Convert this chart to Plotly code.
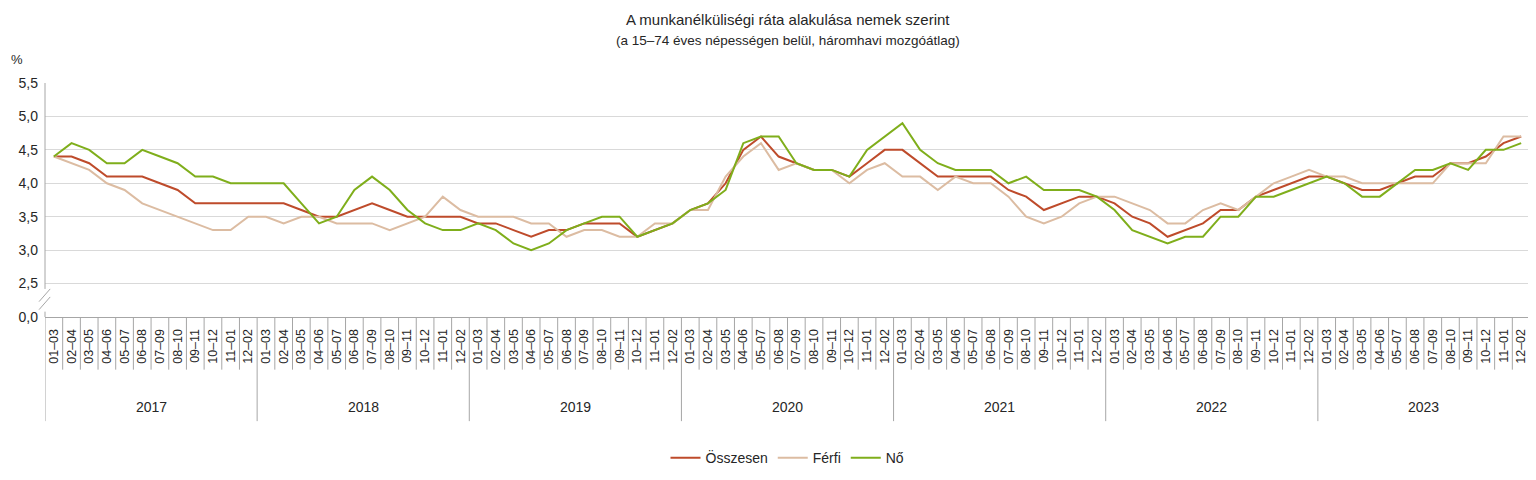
import plotly.graph_objects as go

# Periods (three-month moving windows) and years
years = ['2017', '2018', '2019', '2020', '2021', '2022', '2023']
periods = ['01–03', '02–04', '03–05', '04–06', '05–07', '06–08',
           '07–09', '08–10', '09–11', '10–12', '11–01', '12–02']

# Unemployment rate, %
osszesen = [
    4.4, 4.4, 4.3, 4.1, 4.1, 4.1, 4.0, 3.9, 3.7, 3.7, 3.7, 3.7,   # 2017
    3.7, 3.7, 3.6, 3.5, 3.5, 3.6, 3.7, 3.6, 3.5, 3.5, 3.5, 3.5,   # 2018
    3.4, 3.4, 3.3, 3.2, 3.3, 3.3, 3.4, 3.4, 3.4, 3.2, 3.3, 3.4,   # 2019
    3.6, 3.7, 4.0, 4.5, 4.7, 4.4, 4.3, 4.2, 4.2, 4.1, 4.3, 4.5,   # 2020
    4.5, 4.3, 4.1, 4.1, 4.1, 4.1, 3.9, 3.8, 3.6, 3.7, 3.8, 3.8,   # 2021
    3.7, 3.5, 3.4, 3.2, 3.3, 3.4, 3.6, 3.6, 3.8, 3.9, 4.0, 4.1,   # 2022
    4.1, 4.0, 3.9, 3.9, 4.0, 4.1, 4.1, 4.3, 4.3, 4.4, 4.6, 4.7,   # 2023
]
ferfi = [
    4.4, 4.3, 4.2, 4.0, 3.9, 3.7, 3.6, 3.5, 3.4, 3.3, 3.3, 3.5,
    3.5, 3.4, 3.5, 3.5, 3.4, 3.4, 3.4, 3.3, 3.4, 3.5, 3.8, 3.6,
    3.5, 3.5, 3.5, 3.4, 3.4, 3.2, 3.3, 3.3, 3.2, 3.2, 3.4, 3.4,
    3.6, 3.6, 4.1, 4.4, 4.6, 4.2, 4.3, 4.2, 4.2, 4.0, 4.2, 4.3,
    4.1, 4.1, 3.9, 4.1, 4.0, 4.0, 3.8, 3.5, 3.4, 3.5, 3.7, 3.8,
    3.8, 3.7, 3.6, 3.4, 3.4, 3.6, 3.7, 3.6, 3.8, 4.0, 4.1, 4.2,
    4.1, 4.1, 4.0, 4.0, 4.0, 4.0, 4.0, 4.3, 4.3, 4.3, 4.7, 4.7,
]
no = [
    4.4, 4.6, 4.5, 4.3, 4.3, 4.5, 4.4, 4.3, 4.1, 4.1, 4.0, 4.0,
    4.0, 4.0, 3.7, 3.4, 3.5, 3.9, 4.1, 3.9, 3.6, 3.4, 3.3, 3.3,
    3.4, 3.3, 3.1, 3.0, 3.1, 3.3, 3.4, 3.5, 3.5, 3.2, 3.3, 3.4,
    3.6, 3.7, 3.9, 4.6, 4.7, 4.7, 4.3, 4.2, 4.2, 4.1, 4.5, 4.7,
    4.9, 4.5, 4.3, 4.2, 4.2, 4.2, 4.0, 4.1, 3.9, 3.9, 3.9, 3.8,
    3.6, 3.3, 3.2, 3.1, 3.2, 3.2, 3.5, 3.5, 3.8, 3.8, 3.9, 4.0,
    4.1, 4.0, 3.8, 3.8, 4.0, 4.2, 4.2, 4.3, 4.2, 4.5, 4.5, 4.6,
]

# y tick labels (axis is broken: 0,0 sits one step below 2,5)
ytick_vals = [2.0, 2.5, 3.0, 3.5, 4.0, 4.5, 5.0, 5.5]
ytick_text = ['0,0', '2,5', '3,0', '3,5', '4,0', '4,5', '5,0', '5,5']

n = len(years) * len(periods)
x = list(range(n))
labels = periods * len(years)

font = 'Liberation Sans, Arial, sans-serif'
grey = '#a6a6a6'

fig = go.Figure()
series = [('Összesen', osszesen, '#be4b2b'),
          ('Férfi', ferfi, '#dcbca2'),
          ('Nő', no, '#7fae1b')]
for name, vals, col in series:
    fig.add_scatter(x=x, y=vals, mode='lines', name=name,
                    line=dict(color=col, width=2))

shapes = []
# category separators and year separators under the axis
for k in range(n + 1):
    long = k % 12 == 0
    shapes.append(dict(type='line', xref='x', yref='paper',
                       x0=k - 0.5, x1=k - 0.5, y0=0,
                       y1=-0.445 if long else -0.225,
                       line=dict(color=grey, width=1)))
# y axis line with a break
shapes.append(dict(type='line', xref='paper', yref='y', x0=0, x1=0,
                   y0=2.42, y1=5.5, line=dict(color=grey, width=1)))
shapes.append(dict(type='line', xref='paper', yref='y', x0=0, x1=0,
                   y0=2.0, y1=2.08, line=dict(color=grey, width=1)))
for y0, y1 in [(2.23, 2.42), (2.11, 2.30)]:
    shapes.append(dict(type='line', xref='paper', yref='y',
                       x0=-0.004, x1=0.0035, y0=y0, y1=y1,
                       line=dict(color=grey, width=1)))

annotations = [
    dict(text='A munkanélküliségi ráta alakulása nemek szerint',
         xref='paper', yref='paper', x=0.5, y=1.271, xanchor='center',
         yanchor='middle', showarrow=False, font=dict(size=15)),
    dict(text='(a 15–74 éves népességen belül, háromhavi mozgóátlag)',
         xref='paper', yref='paper', x=0.5, y=1.182, xanchor='center',
         yanchor='middle', showarrow=False, font=dict(size=13.5)),
    dict(text='%', xref='paper', yref='paper', x=-0.0245, y=1.102,
         xanchor='left', yanchor='middle', showarrow=False,
         font=dict(size=13)),
]
for i, yr in enumerate(years):
    annotations.append(dict(text=yr, xref='x', yref='paper', x=i * 12 + 5.5,
                            y=-0.383, xanchor='center', yanchor='middle',
                            showarrow=False, font=dict(size=14)))

fig.update_layout(
    width=1528, height=472,
    margin=dict(l=37, r=6, t=75, b=161),
    paper_bgcolor='white', plot_bgcolor='white',
    font=dict(family=font, size=13, color='#262626'),
    showlegend=True,
    legend=dict(orientation='h', x=0.5, xanchor='center', y=-0.603,
                yanchor='middle', font=dict(size=14), itemwidth=30),
    shapes=shapes,
    annotations=annotations,
)
fig.update_xaxes(range=[-0.5, n - 0.5], tickmode='array', tickvals=x,
                 ticktext=labels, tickangle=-90, ticks='', showgrid=False,
                 showline=True, linecolor=grey, zeroline=False,
                 tickfont=dict(size=12.5), ticklabelstandoff=6,
                 automargin=False)
fig.update_yaxes(range=[2.0, 5.5], tickmode='array', tickvals=ytick_vals,
                 ticktext=ytick_text, showgrid=True, gridcolor='#d9d9d9',
                 showline=False, zeroline=False, tickfont=dict(size=14),
                 ticklabelstandoff=6, automargin=False)

fig.write_html('out.html')
